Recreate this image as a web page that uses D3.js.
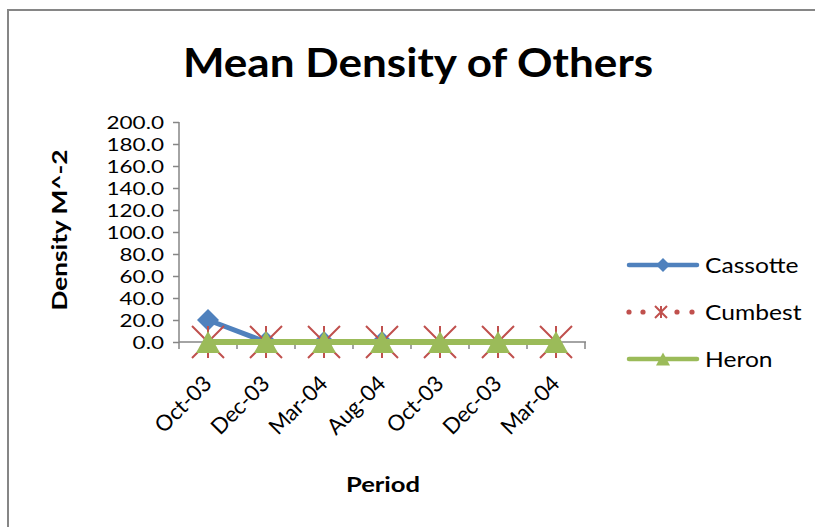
<!DOCTYPE html>
<html>
<head>
<meta charset="utf-8">
<script src="https://cdn.jsdelivr.net/npm/d3@7"></script>
<style>
  html, body { margin: 0; padding: 0; background: #fff; }
  svg { display: block; }
  text { font-family: Lato, "Open Sans", sans-serif; fill: #000; }
</style>
</head>
<body>
<svg id="chart" width="815" height="527"></svg>
<script>
// Sampling periods and mean density per site
const periods = ["Oct-03", "Dec-03", "Mar-04", "Aug-04", "Oct-03 ", "Dec-03 ", "Mar-04 "];
const cassotte = [20.0, 0.0, 0.0, 0.0, null, null, null];
const cumbest = [0.0, 0.0, 0.0, 0.0, 0.0, 0.0, 0.0];
const heron = [0.0, 0.0, 0.0, 0.0, 0.0, 0.0, 0.0];
const yTicks = [0, 20, 40, 60, 80, 100, 120, 140, 160, 180, 200];

const seriesNames = ["Cassotte", "Cumbest", "Heron"];
const colors = { Cassotte: "#4F81BD", Cumbest: "#C0504D", Heron: "#9BBB59" };

const svg = d3.select("#chart");
const axisColor = "#868686";

// Chart frame (top and left edges)
svg.append("path")
  .attr("d", "M8,527 L8,10 L815,10")
  .attr("fill", "none").attr("stroke", axisColor).attr("stroke-width", 2);

const x = d3.scaleBand().domain(periods).range([179, 585]);
const y = d3.scaleLinear().domain([0, 200]).range([342, 122]);
const cx = d => x(d) + x.bandwidth() / 2;

// Text placed at (px, py), widened horizontally by sx
function wideText(parent, px, py, str, size, sx, opts = {}) {
  return parent.append("text")
    .attr("transform", `translate(${px},${py}) ${opts.rotate ? `rotate(${opts.rotate})` : ""} scale(${sx},1)`)
    .attr("text-anchor", opts.anchor || "start")
    .style("font-size", size + "px")
    .style("font-weight", opts.bold ? "bold" : "normal")
    .text(str);
}

// Title
wideText(svg, 418, 77, "Mean Density of Others", 41, 1.075, { anchor: "middle", bold: true });

// Y axis
const yAxis = svg.append("g").attr("transform", "translate(179,0)")
  .call(d3.axisLeft(y).tickValues(yTicks).tickSize(6).tickFormat(""));
yAxis.select(".domain").attr("stroke", axisColor).attr("stroke-width", 1.5).attr("d", "M0,122V342");
yAxis.selectAll(".tick line").attr("stroke", axisColor).attr("stroke-width", 1.5);
yTicks.forEach(t => wideText(svg, 164, y(t) + 6.5, d3.format(".1f")(t), 18, 1.25, { anchor: "end" }));

// X axis with ticks at category boundaries
const xAxisG = svg.append("g").attr("transform", "translate(0,342)");
xAxisG.append("line").attr("x1", 179).attr("x2", 586).attr("y1", 0).attr("y2", 0)
  .attr("stroke", axisColor).attr("stroke-width", 1.5);
const bounds = periods.map(p => x(p)).concat([x(periods[periods.length - 1]) + x.bandwidth()]);
xAxisG.selectAll("line.bt").data(bounds).enter().append("line")
  .attr("class", "bt")
  .attr("x1", d => d).attr("x2", d => d).attr("y1", 0).attr("y2", 7)
  .attr("stroke", axisColor).attr("stroke-width", 1.5);
xAxisG.selectAll("text.xl").data(periods).enter().append("text")
  .attr("class", "xl")
  .attr("text-anchor", "end")
  .attr("transform", d => `translate(${cx(d) + 5},${43}) rotate(-45)`)
  .style("font-size", "22px")
  .text(d => d.trim());

// Axis titles
wideText(svg, 67, 230, "Density M^-2", 21, 1.25, { anchor: "middle", bold: true, rotate: -90 });
wideText(svg, 383, 492, "Period", 21, 1.22, { anchor: "middle", bold: true });

const line = d3.line()
  .defined(d => d.v !== null)
  .x(d => cx(d.p)).y(d => y(d.v));
const pts = arr => periods.map((p, i) => ({ p, v: arr[i] }));

// Marker shapes
function diamond(g, px, py, s) {
  g.append("path").attr("d", `M${px},${py - s}L${px + s},${py}L${px},${py + s}L${px - s},${py}Z`)
    .attr("fill", colors.Cassotte);
}
function star(g, px, py, s) {
  const d = `M${px - s},${py - s}L${px + s},${py + s}M${px - s},${py + s}L${px + s},${py - s}M${px},${py - s}L${px},${py + s}`;
  g.append("path").attr("d", d).attr("stroke", colors.Cumbest).attr("stroke-width", 2).attr("fill", "none");
}
function triangle(g, px, py, w, h) {
  g.append("path").attr("d", `M${px},${py - h / 2}L${px + w / 2},${py + h / 2}L${px - w / 2},${py + h / 2}Z`)
    .attr("fill", colors.Heron);
}

// Cassotte
const gC = svg.append("g");
gC.append("path").datum(pts(cassotte)).attr("d", line)
  .attr("fill", "none").attr("stroke", colors.Cassotte).attr("stroke-width", 5).attr("stroke-linejoin", "round");
pts(cassotte).filter(d => d.v !== null).forEach(d => diamond(gC, cx(d.p), y(d.v), 11));

// Cumbest
const gU = svg.append("g");
gU.append("path").datum(pts(cumbest)).attr("d", line)
  .attr("fill", "none").attr("stroke", colors.Cumbest).attr("stroke-width", 3)
  .attr("stroke-dasharray", "0.1,8").attr("stroke-linecap", "round");
pts(cumbest).forEach(d => star(gU, cx(d.p), y(d.v), 16));

// Heron
const gH = svg.append("g");
gH.append("path").datum(pts(heron)).attr("d", line)
  .attr("fill", "none").attr("stroke", colors.Heron).attr("stroke-width", 6);
pts(heron).forEach(d => triangle(gH, cx(d.p), y(d.v), 24, 22));

// Legend
const legY = [265, 312, 359];
seriesNames.forEach((name, i) => {
  const g = svg.append("g");
  const ly = legY[i];
  if (name === "Cassotte") {
    g.append("line").attr("x1", 629).attr("x2", 697).attr("y1", ly).attr("y2", ly)
      .attr("stroke", colors.Cassotte).attr("stroke-width", 4.5).attr("stroke-linecap", "round");
    diamond(g, 663, ly, 7);
  } else if (name === "Cumbest") {
    [629, 643, 677, 692].forEach(dx => g.append("circle").attr("cx", dx).attr("cy", ly).attr("r", 2.6).attr("fill", colors.Cumbest));
    star(g, 661, ly, 6);
  } else {
    g.append("line").attr("x1", 629).attr("x2", 697).attr("y1", ly).attr("y2", ly)
      .attr("stroke", colors.Heron).attr("stroke-width", 4.5).attr("stroke-linecap", "round");
    triangle(g, 663, ly, 14, 13);
  }
  wideText(g, 705, ly + 7.5, name, 22, 1.12);
});
</script>
</body>
</html>
